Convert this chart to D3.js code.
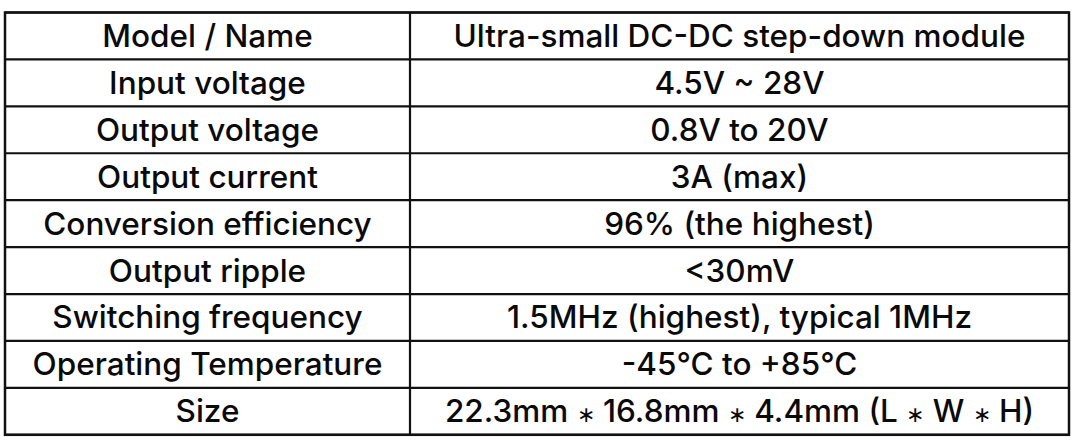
<!DOCTYPE html>
<html><head><meta charset="utf-8">
<script src="https://cdn.jsdelivr.net/npm/d3@7"></script>
<style>html,body{margin:0;padding:0;background:#fff;overflow:hidden}</style>
</head><body><svg id="c" width="1083" height="446"></svg>
<script>
const params = ["Model / Name","Input voltage","Output voltage","Output current","Conversion efficiency","Output ripple","Switching frequency","Operating Temperature","Size"];
const values = ["Ultra-small DC-DC step-down module","4.5V ~ 28V","0.8V to 20V","3A (max)","96% (the highest)","<30mV","1.5MHz (highest), typical 1MHz","-45℃ to +85℃","22.3mm ∗ 16.8mm ∗ 4.4mm (L ∗ W ∗ H)"];
const columns = ["param","value"];

(function(){
const svg = d3.select("#c");
const x0L = 5, x1R = 1069, yT = 12.5, yB = 434.8, split = 410;
const y = d3.scaleBand().domain(d3.range(params.length)).range([yT, yB]);
const x = d3.scaleOrdinal().domain(columns).range([[x0L, split],[split, x1R]]);

const rows = params.map((p,i)=>({i, param:p, value:values[i]}));
const g = svg.append("g");
const font = "Inter, 'Noto Sans', sans-serif";

rows.forEach(r=>{
  columns.forEach(c=>{
    const [a,b] = x(c);
    const t = g.append("text")
      .attr("x",(a+b)/2)
      .attr("y",y(r.i)+y.bandwidth()/2+11)
      .attr("text-anchor","middle")
      .attr("font-family",font)
      .attr("font-size",31.5)
      .attr("font-weight",500)
      .attr("fill","#0a0a0a");
    const parts = r[c].split(/(∗)/);
    parts.forEach(p=>{
      if(p==="∗") t.append("tspan").attr("font-size",22).attr("font-family","Inter, sans-serif").text(p);
      else if(p) t.append("tspan").text(p);
    });
  });
});

g.selectAll("line.h").data(d3.range(params.length+1)).join("line")
  .attr("x1",x0L).attr("x2",x1R)
  .attr("y1",d=> d===params.length? yB : y(d))
  .attr("y2",d=> d===params.length? yB : y(d))
  .attr("stroke","#111").attr("stroke-width",2.2);
g.append("line").attr("x1",split).attr("x2",split).attr("y1",yT).attr("y2",yB)
  .attr("stroke","#111").attr("stroke-width",2.2);
g.append("rect").attr("x",x0L).attr("y",yT).attr("width",x1R-x0L).attr("height",yB-yT)
  .attr("fill","none").attr("stroke","#111").attr("stroke-width",2.5);
})();
</script></body></html>
